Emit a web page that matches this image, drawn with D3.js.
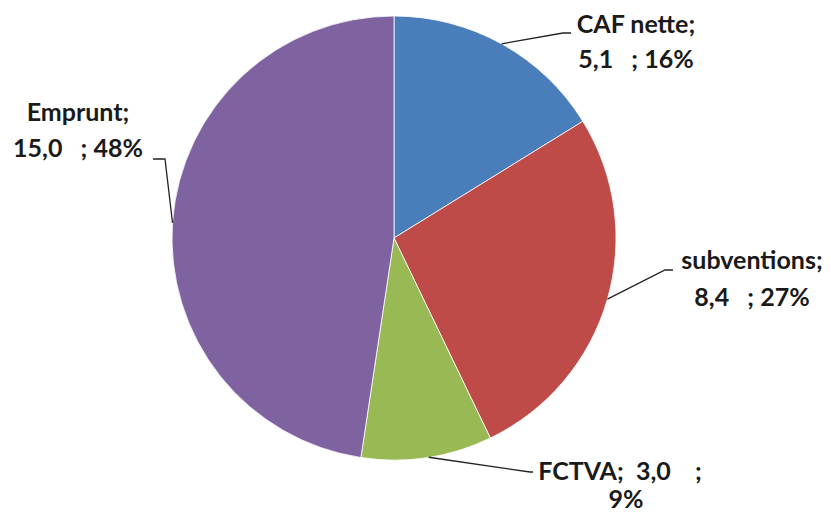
<!DOCTYPE html>
<html><head><meta charset="utf-8">
<script src="https://cdn.jsdelivr.net/npm/d3@7"></script>
<style>body{margin:0;background:#fff}svg{display:block}text{font-family:Lato,"Open Sans",sans-serif;font-weight:700;fill:#1a1a1a;white-space:pre}</style>
</head><body><svg id="c" width="831" height="514"></svg>
<script>
const categories = ["CAF nette", "subventions", "FCTVA", "Emprunt"];
const values = [5.1, 8.4, 3.0, 15.0];
const percentLabels = ["16%", "27%", "9%", "48%"];
const colors = ["#4A7EBB", "#BE4B48", "#98B954", "#7F62A0"];

// label layout: line texts, centre x per line, baselines, leader anchor angle & elbow
const layout = [
  {lines: d => [d.cat + ";", d.val + "   ; " + d.pct], x: [636, 636], y: [33, 68], ang: 29, elbow: [[563, 33], [571, 33]]},
  {lines: d => [d.cat + ";", d.val + "   ; " + d.pct], x: [752, 752], y: [269, 306], ang: 106, elbow: [[665, 270], [673, 270]]},
  {lines: d => [d.cat + ";  " + d.val + "    ;", d.pct], x: [620, 626], y: [480, 508], ang: 171, elbow: [[530, 472], [533, 472]]},
  {lines: d => [d.cat + ";", d.val + "   ; " + d.pct], x: [78, 78], y: [121, 157], ang: 273.9, elbow: [[165, 159], [153, 159]]}
];

const svg = d3.select("#c");
const cx = 394, cy = 238, r = 222;
const fmt = v => d3.format(".1f")(v).replace(".", ",");
const data = categories.map((c, i) => ({cat: c, v: values[i], val: fmt(values[i]), pct: percentLabels[i], color: colors[i]}));

const pie = d3.pie().sort(null).value(d => d.v);
const arc = d3.arc().innerRadius(0).outerRadius(r);
const g = svg.append("g").attr("transform", `translate(${cx},${cy})`);
g.selectAll("path").data(pie(data)).join("path")
  .attr("d", arc).attr("fill", d => d.data.color)
  .attr("stroke", "#fff").attr("stroke-width", 0.8);

data.forEach((d, i) => {
  const L = layout[i];
  const a = L.ang * Math.PI / 180;
  const p0 = [cx + r * Math.sin(a), cy - r * Math.cos(a)];
  const pts = [p0, ...L.elbow];
  svg.append("path").attr("d", d3.line()(pts)).attr("fill", "none")
    .attr("stroke", "#222").attr("stroke-width", 1.3);
  L.lines(d).forEach((t, j) => {
    svg.append("text").attr("x", L.x[j]).attr("y", L.y[j]).attr("text-anchor", "middle")
      .attr("font-size", 25).text(t);
  });
});
</script></body></html>
